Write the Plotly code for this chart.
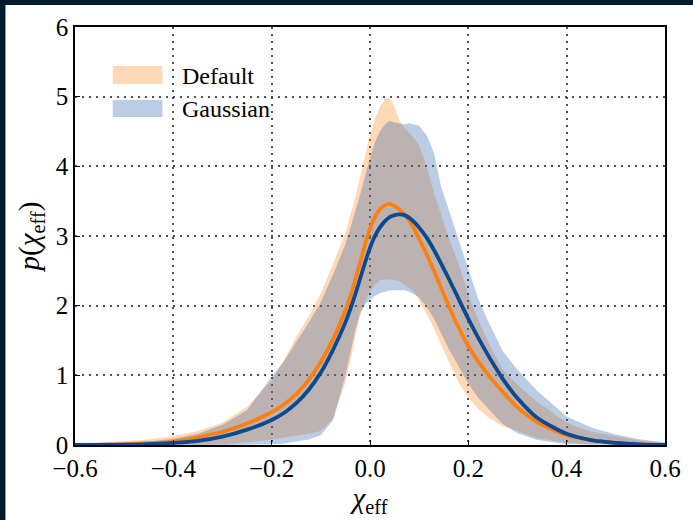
import plotly.graph_objects as go

# ---- data ----
chi = [-0.6, -0.5, -0.45, -0.4, -0.35, -0.3, -0.25, -0.2, -0.175, -0.15, -0.125, -0.1, -0.075,
       -0.05, -0.04, -0.03, -0.02, -0.01, 0.0, 0.01, 0.02, 0.03, 0.04, 0.05, 0.06, 0.07, 0.08,
       0.09, 0.1, 0.115, 0.13, 0.145, 0.16, 0.18, 0.2, 0.22, 0.24, 0.27, 0.3, 0.34, 0.4, 0.45,
       0.5, 0.55, 0.6]

default_median = [0.0, 0.01, 0.025, 0.05, 0.11, 0.19, 0.31, 0.47, 0.58, 0.73, 0.93, 1.19, 1.52,
                  1.93, 2.13, 2.37, 2.62, 2.88, 3.1, 3.27, 3.38, 3.44, 3.46, 3.43, 3.38, 3.31, 3.22,
                  3.1, 2.96, 2.74, 2.5, 2.25, 2.0, 1.69, 1.42, 1.2, 1.01, 0.76, 0.54, 0.33, 0.14,
                  0.07, 0.03, 0.01, 0.0]
default_upper = [0.01, 0.05, 0.08, 0.13, 0.2, 0.32, 0.55, 0.93, 1.22, 1.55, 1.84, 2.18, 2.6,
                 3.05, 3.3, 3.55, 3.85, 4.15, 4.45, 4.68, 4.85, 4.97, 4.98, 4.85, 4.65, 4.55, 4.48,
                 4.4, 4.3, 4.0, 3.62, 3.3, 2.98, 2.6, 2.15, 1.8, 1.48, 1.08, 0.86, 0.62, 0.32,
                 0.19, 0.12, 0.06, 0.03]
default_lower = [0.0, 0.0, 0.0, 0.0, 0.003, 0.01, 0.04, 0.08, 0.1, 0.13, 0.16, 0.2, 0.38,
                 0.9, 1.2, 1.55, 1.85, 2.05, 2.2, 2.3, 2.36, 2.38, 2.38, 2.37, 2.35, 2.3, 2.25,
                 2.2, 2.08, 1.88, 1.68, 1.45, 1.2, 0.9, 0.68, 0.52, 0.4, 0.27, 0.2, 0.1, 0.03,
                 0.01, 0.0, 0.0, 0.0]

gauss_median = [0.0, 0.005, 0.012, 0.03, 0.06, 0.12, 0.22, 0.36, 0.46, 0.6, 0.79, 1.04, 1.37,
                1.76, 1.95, 2.16, 2.39, 2.62, 2.83, 3.0, 3.12, 3.21, 3.27, 3.3, 3.31, 3.3, 3.26,
                3.2, 3.12, 2.98, 2.8, 2.6, 2.39, 2.1, 1.81, 1.54, 1.29, 0.95, 0.67, 0.39, 0.16,
                0.07, 0.03, 0.01, 0.0]
gauss_upper = [0.005, 0.03, 0.05, 0.09, 0.16, 0.29, 0.5, 0.98, 1.2, 1.48, 1.75, 2.05, 2.45,
               2.88, 3.1, 3.35, 3.6, 3.88, 4.12, 4.35, 4.5, 4.6, 4.65, 4.63, 4.62, 4.6, 4.62,
               4.6, 4.58, 4.45, 4.2, 3.7, 3.38, 2.95, 2.5, 2.1, 1.78, 1.35, 1.08, 0.78, 0.41,
               0.25, 0.15, 0.08, 0.04]
gauss_lower = [0.0, 0.0, 0.0, 0.0, 0.0, 0.0, 0.0, 0.01, 0.02, 0.05, 0.08, 0.14, 0.36,
               1.0, 1.32, 1.65, 1.9, 2.02, 2.08, 2.14, 2.18, 2.2, 2.22, 2.22, 2.22, 2.22, 2.2,
               2.16, 2.12, 1.98, 1.82, 1.6, 1.38, 1.12, 0.88, 0.68, 0.52, 0.3, 0.17, 0.07, 0.01,
               0.0, 0.0, 0.0, 0.0]

series_names = ["Default", "Gaussian"]
x_ticks = [-0.6, -0.4, -0.2, 0.0, 0.2, 0.4, 0.6]
y_ticks = [0, 1, 2, 3, 4, 5, 6]

# ---- styles ----
ORANGE_LINE = "#ff7f0e"
ORANGE_FILL = "rgba(255,127,14,0.30)"
BLUE_LINE = "#0b4a90"
BLUE_FILL = "rgba(30,90,165,0.30)"
FONT = "Liberation Serif"

fig = go.Figure()

fig.add_trace(go.Scatter(x=chi + chi[::-1], y=default_upper + default_lower[::-1],
                         fill="toself", fillcolor=ORANGE_FILL, line=dict(width=0),
                         mode="lines", name=series_names[0], showlegend=False, hoverinfo="skip"))
fig.add_trace(go.Scatter(x=chi + chi[::-1], y=gauss_upper + gauss_lower[::-1],
                         fill="toself", fillcolor=BLUE_FILL, line=dict(width=0),
                         mode="lines", name=series_names[1], showlegend=False, hoverinfo="skip"))
fig.add_trace(go.Scatter(x=chi, y=default_median, mode="lines",
                         line=dict(color=ORANGE_LINE, width=3.8, shape="spline", smoothing=0.7),
                         showlegend=False))
fig.add_trace(go.Scatter(x=chi, y=gauss_median, mode="lines",
                         line=dict(color=BLUE_LINE, width=3.8, shape="spline", smoothing=0.7),
                         showlegend=False))

W, H = 693, 520
ML, MR, MT, MB = 75, 24, 27, 75
pw, ph = W - ML - MR, H - MT - MB


def px_x(p):
    return (p - ML) / pw


def px_y(p):
    return (H - MB - p) / ph


shapes = [
    # white page area inside dark frame
    dict(type="rect", xref="paper", yref="paper", x0=px_x(5), x1=px_x(W + 5),
         y0=px_y(H + 5), y1=px_y(5), fillcolor="white", line=dict(width=0), layer="below"),
    # manual legend patches
    dict(type="rect", xref="paper", yref="paper", x0=px_x(113), x1=px_x(163),
         y0=px_y(84), y1=px_y(66), fillcolor=ORANGE_FILL, line=dict(width=0)),
    dict(type="rect", xref="paper", yref="paper", x0=px_x(113), x1=px_x(163),
         y0=px_y(117), y1=px_y(100), fillcolor=BLUE_FILL, line=dict(width=0)),
]
annotations = [
    dict(xref="paper", yref="paper", x=px_x(181), y=px_y(76), text=series_names[0],
         showarrow=False, xanchor="left", yanchor="middle",
         font=dict(family=FONT, size=24, color="black")),
    dict(xref="paper", yref="paper", x=px_x(181), y=px_y(109), text=series_names[1],
         showarrow=False, xanchor="left", yanchor="middle",
         font=dict(family=FONT, size=24, color="black")),
]

axis_common = dict(
    showline=True, linecolor="black", linewidth=1.5, mirror=True,
    ticks="inside", ticklen=5, tickwidth=1.2, tickcolor="black",
    showgrid=True, gridcolor="rgba(50,50,50,0.85)", gridwidth=1.5, griddash="1.5px,5.5px",
    zeroline=False, tickfont=dict(family=FONT, size=25, color="black"),
)

fig.update_layout(
    width=W, height=H,
    margin=dict(l=ML, r=MR, t=MT, b=MB),
    paper_bgcolor="#021c2d", plot_bgcolor="white",
    showlegend=False,
    shapes=shapes, annotations=annotations,
    xaxis=dict(range=[-0.6, 0.6], tickvals=x_ticks, tickformat=".1f",
               title=dict(text="<i>χ</i><sub>eff</sub>", font=dict(family=FONT, size=29, color="black"),
                          standoff=0),
               **axis_common),
    yaxis=dict(range=[0, 6], tickvals=y_ticks, tickformat="d",
               title=dict(text="<i>p</i>(<i>χ</i><sub>eff</sub>)", font=dict(family=FONT, size=29, color="black"),
                          standoff=8),
               **axis_common),
)

fig.write_html("out.html")
